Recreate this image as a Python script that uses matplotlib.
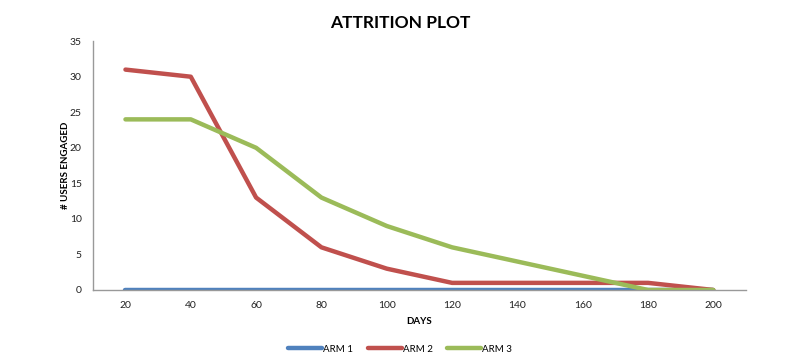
import matplotlib.pyplot as plt

days = [20, 40, 60, 80, 100, 120, 140, 160, 180, 200]
arm1 = [0, 0, 0, 0, 0, 0, 0, 0, 0, 0]
arm2 = [31, 30, 13, 6, 3, 1, 1, 1, 1, 0]
arm3 = [24, 24, 20, 13, 9, 6, 4, 2, 0, 0]

plt.rcParams['font.family'] = ['Lato', 'DejaVu Sans']

fig = plt.figure(figsize=(8, 3.58), dpi=100)
ax = fig.add_axes([0.116, 0.19, 0.8165, 0.695])

x = list(range(len(days)))
ax.plot(x, arm1, color='#4F81BD', lw=3.2, label='ARM 1', solid_capstyle='round')
ax.plot(x, arm2, color='#C0504D', lw=3.2, label='ARM 2', solid_capstyle='round')
ax.plot(x, arm3, color='#9BBB59', lw=3.2, label='ARM 3', solid_capstyle='round')

ax.set_xlim(-0.5, len(days) - 0.5)
ax.set_ylim(0, 35)
ax.set_xticks(x)
ax.set_xticklabels([str(d) for d in days])
ax.set_yticks(range(0, 36, 5))
ax.tick_params(length=0, labelsize=7.5, colors='#222222', pad=8)

for s in ['top', 'right']:
    ax.spines[s].set_visible(False)
for s in ['left', 'bottom']:
    ax.spines[s].set_color('#999999')
    ax.spines[s].set_linewidth(1)

ax.set_xlabel('DAYS', fontsize=7, fontweight='bold', labelpad=5)
ax.set_ylabel('# USERS ENGAGED', fontsize=7, fontweight='bold')
ax.yaxis.set_label_coords(-0.035, 0.5)
fig.text(0.5, 0.935, 'ATTRITION PLOT', ha='center', va='center',
         fontsize=12.5, fontweight='bold')

fig.legend(loc='center', bbox_to_anchor=(0.5, 0.025), ncol=3, frameon=False,
           fontsize=7, handlelength=3.5, handletextpad=0.1, columnspacing=1.5)

fig.savefig('out.png', dpi=100)
